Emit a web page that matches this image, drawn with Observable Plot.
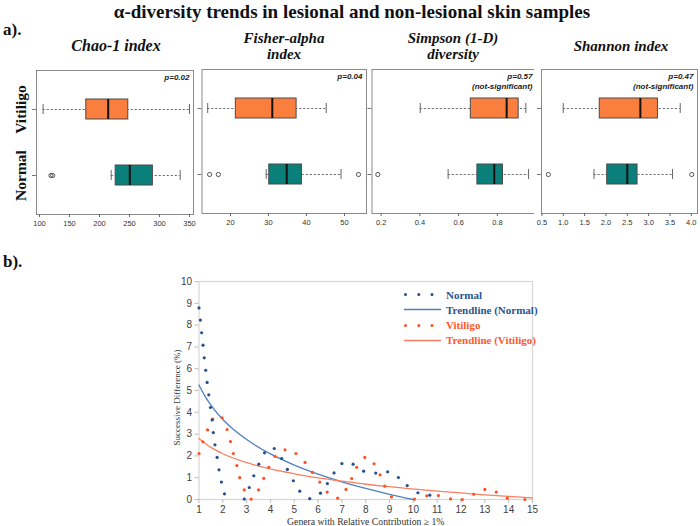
<!DOCTYPE html>
<html>
<head>
<meta charset="utf-8">
<script src="https://cdn.jsdelivr.net/npm/d3@7"></script>
<script src="https://cdn.jsdelivr.net/npm/@observablehq/plot@0.6"></script>
<style>
  body { margin: 0; background: #fff; }
  #root { position: relative; width: 700px; height: 526px; overflow: hidden; background: #fff; font-family: "Liberation Serif", "Times New Roman", serif; }
  .abs { position: absolute; white-space: nowrap; }
  .ttl { font-weight: bold; font-style: italic; font-size: 15px; text-align: center; line-height: 16px; color: #111; transform: translateX(-50%); }
  .svgwrap { position: absolute; }
  .leg { position: absolute; font-weight: bold; font-size: 11px; display: flex; align-items: center; height: 15px; }
</style>
</head>
<body>
<div id="root">
  <div class="abs" style="left:352px; top:1px; transform:translateX(-50%); font-weight:bold; font-size:19px; color:#111;">α-diversity trends in lesional and non-lesional skin samples</div>
  <div class="abs" style="left:3px; top:20px; font-weight:bold; font-size:17px; color:#111;">a).</div>
  <div class="abs" style="left:3px; top:252px; font-weight:bold; font-size:17px; color:#111;">b).</div>
  <div class="abs ttl" style="left:116px; top:38px; font-size:16px;">Chao-1 index</div>
  <div class="abs ttl" style="left:284px; top:30px;">Fisher-alpha<br>index</div>
  <div class="abs ttl" style="left:453px; top:30px;">Simpson (1-D)<br>diversity</div>
  <div class="abs ttl" style="left:621px; top:38px;">Shannon index</div>
</div>
<script>
// ---------- Data: panel a) box plots (min whisker, Q1, median, Q3, max whisker) ----------
const rowGroups = ["Vitiligo", "Normal"];

const chaoVitiligo = [106, 178, 214.5, 248, 350];
const chaoNormal = [219.5, 227, 250.5, 289, 334.5];
const chaoOutliers = [119, 122];
const chaoTicks = [100, 150, 200, 250, 300, 350];

const fisherVitiligo = [14, 21.4, 31, 37.4, 45.2];
const fisherNormal = [29.4, 30.2, 34.8, 38.8, 49.1];
const fisherOutliers = [14.5, 16.8, 53.7];
const fisherTicks = [20, 30, 40, 50];

const simpsonVitiligo = [0.402, 0.663, 0.848, 0.910, 0.947];
const simpsonNormal = [0.546, 0.697, 0.784, 0.829, 0.961];
const simpsonOutliers = [0.183];
const simpsonTicks = [0.2, 0.4, 0.6, 0.8];

const shannonVitiligo = [1.0, 1.855, 2.806, 3.218, 3.74];
const shannonNormal = [1.72, 2.03, 2.50, 2.74, 3.56];
const shannonOutliers = [0.65, 4.01];
const shannonTicks = [0.5, 1.0, 1.5, 2.0, 2.5, 3.0, 3.5, 4.0];

const pLabels = ["p=0.02", "p=0.04", "p=0.57\n(not-significant)", "p=0.47\n(not-significant)"];

// ---------- Data: panel b) successive differences ----------
const normalX = [1.0,1.06,1.11,1.17,1.22,1.28,1.34,1.41,1.48,1.55,1.60,1.67,1.76,1.84,1.94,2.07,2.90,3.11,3.30,3.51,3.75,4.16,4.47,4.71,4.96,5.23,5.65,6.10,6.39,6.67,7.00,7.47,7.91,8.42,8.92,9.37,9.74,10.19,10.69];
const normalY = [8.79,8.23,7.65,7.08,6.50,5.93,5.37,4.80,4.22,3.65,3.07,2.51,1.93,1.36,0.80,0.26,0.02,0.55,1.09,1.62,2.14,2.34,1.88,1.38,0.86,0.38,0.04,0.29,0.73,1.22,1.65,1.62,1.30,1.21,1.27,1.01,0.64,0.31,0.20];

const vitiligoX = [1.0,1.16,1.36,1.58,1.97,2.18,2.32,2.44,2.59,2.71,2.90,3.19,3.50,3.72,3.93,4.19,4.61,5.07,5.45,5.76,6.07,6.38,6.82,7.17,7.41,7.62,7.96,8.35,8.60,8.80,9.08,10.05,10.56,11.05,11.56,12.05,12.53,13.0,13.48,13.94,14.68];
const vitiligoY = [2.11,2.65,3.19,3.69,3.75,3.21,2.66,2.11,1.56,1.00,0.44,0.02,0.44,0.97,1.48,1.98,2.28,2.11,1.70,1.24,0.80,0.34,0.06,0.46,0.96,1.48,1.93,1.64,1.13,0.61,0.12,0.02,0.17,0.18,0.03,0.0,0.24,0.46,0.34,0.06,0.0];

const trendNormalX = [1, 1.25, 1.5, 2, 2.5, 3, 4, 5, 6, 7, 8, 9, 10];
const trendNormalY = [5.25, 4.74, 4.33, 3.67, 3.16, 2.75, 2.09, 1.58, 1.16, 0.81, 0.51, 0.24, 0.0];
const trendVitiligoX = [1, 1.5, 2, 3, 4, 5, 6, 7, 8, 9, 10, 11, 12, 13, 14, 15];
const trendVitiligoY = [2.80, 2.39, 2.10, 1.69, 1.40, 1.18, 0.99, 0.84, 0.70, 0.59, 0.48, 0.38, 0.30, 0.21, 0.14, 0.07];

const xTicksB = [1,2,3,4,5,6,7,8,9,10,11,12,13,14,15];
const yTicksB = [0,1,2,3,4,5,6,7,8,9,10];
const legendLabels = ["Normal", "Trendline (Normal)", "Vitiligo", "Trendline (Vitiligo)"];

// ---------- Styles ----------
const ORANGE = "#FA7F3E", TEAL = "#0B7F79";
const C_NORM_DOT = "#24508F", C_NORM_LINE = "#4F81BD";
const C_VIT_DOT = "#FF5025", C_VIT_LINE = "#FA7F62";
const root = document.getElementById("root");

function place(svg, left, top, bg) {
  const d = document.createElement("div");
  d.className = "svgwrap";
  d.style.left = left + "px";
  d.style.top = top + "px";
  if (bg) d.style.background = bg;
  d.appendChild(svg);
  root.appendChild(d);
}

function boxPanel({vit, nor, outliers, domain, ticks, fmt, pText, width, marginLeft, marginRight, showLabels, bg}) {
  const stats = [
    {g: "Vitiligo", v: vit, fill: ORANGE},
    {g: "Normal", v: nor, fill: TEAL}
  ];
  const marks = [
    Plot.ruleY(stats, {y: "g", x1: d => d.v[0], x2: d => d.v[4], stroke: "#6f6f6f", strokeWidth: 1, strokeDasharray: "2.2,1.8"}),
    Plot.tickX(stats, {x: d => d.v[0], y: "g", insetTop: 5, insetBottom: 5, stroke: "#666"}),
    Plot.tickX(stats, {x: d => d.v[4], y: "g", insetTop: 5, insetBottom: 5, stroke: "#666"}),
    Plot.barX(stats, {y: "g", x1: d => d.v[1], x2: d => d.v[3], fill: "fill", stroke: "#4a4a4a", strokeWidth: 1}),
    Plot.tickX(stats, {x: d => d.v[2], y: "g", stroke: "#111", strokeWidth: 2}),
    Plot.dot(outliers, {x: d => d, y: () => "Normal", r: 2.1, stroke: "#555", strokeWidth: 1}),
    Plot.frame({stroke: "#8a8a8a", strokeWidth: 1}),
    Plot.axisX({ticks, tickFormat: fmt, tickSize: 3, tickPadding: 3, fontSize: 7.5, fontFamily: "Liberation Sans, Arial, sans-serif", color: "#333", stroke: "#666", label: null}),
    Plot.axisY({tickSize: 4, tickFormat: () => "", stroke: "#777", label: null}),
    Plot.text([pText], {frameAnchor: "top-right", dx: -4, dy: 3, lineAnchor: "top", textAnchor: "end", fontSize: 8, fontWeight: "bold", fontStyle: "italic", fontFamily: "Liberation Sans, Arial, sans-serif", fill: "#222", lineHeight: 1.2})
  ];
  if (showLabels) {
    marks.push(Plot.text(rowGroups, {y: d => d, text: d => d, frameAnchor: "left", dx: -15, rotate: -90, textAnchor: "middle", lineAnchor: "middle", fontSize: 15.5, fontWeight: "bold", fontFamily: "Liberation Serif, Times New Roman, serif", fill: "#111"}));
  }
  return Plot.plot({
    width, height: 172,
    marginLeft, marginRight, marginTop: 2, marginBottom: 26,
    x: {domain, label: null},
    y: {type: "band", domain: rowGroups, paddingInner: 0.697, paddingOuter: 0.439, label: null},
    color: {type: "identity"},
    style: {background: bg || "transparent", overflow: "visible"},
    marks
  });
}

const f0 = d => String(d);
const f1 = d => d.toFixed(1);

place(boxPanel({vit: chaoVitiligo, nor: chaoNormal, outliers: chaoOutliers, domain: [95, 356.7], ticks: chaoTicks, fmt: f0, pText: pLabels[0], width: 194, marginLeft: 36, marginRight: 1, showLabels: true}), 0, 68);
place(boxPanel({vit: fisherVitiligo, nor: fisherNormal, outliers: fisherOutliers, domain: [12.5, 55.8], ticks: fisherTicks, fmt: f0, pText: pLabels[1], width: 172, marginLeft: 6.5, marginRight: 1}), 195, 67);
place(boxPanel({vit: simpsonVitiligo, nor: simpsonNormal, outliers: simpsonOutliers, domain: [0.153, 1.002], ticks: simpsonTicks, fmt: f1, pText: pLabels[2], width: 171, marginLeft: 5.5, marginRight: 1}), 366, 67);
place(boxPanel({vit: shannonVitiligo, nor: shannonNormal, outliers: shannonOutliers, domain: [0.49, 4.145], ticks: shannonTicks, fmt: f1, pText: pLabels[3], width: 166, marginLeft: 7, marginRight: 3, bg: "#fff"}), 534, 67);

// ---------- Panel b ----------
const normalPts = normalX.map((x, i) => ({x, y: normalY[i]}));
const vitPts = vitiligoX.map((x, i) => ({x, y: vitiligoY[i]}));
const trendN = trendNormalX.map((x, i) => ({x, y: trendNormalY[i]}));
const trendV = trendVitiligoX.map((x, i) => ({x, y: trendVitiligoY[i]}));

const chartB = Plot.plot({
  width: 700, height: 256,
  marginLeft: 198.5, marginRight: 168, marginTop: 11, marginBottom: 27,
  x: {domain: [1, 15], label: null},
  y: {domain: [0, 10], label: null},
  style: {background: "transparent", overflow: "visible"},
  marks: [
    Plot.frame({stroke: "#d6d6d6", strokeWidth: 1.2}),
    Plot.axisX({ticks: xTicksB, tickSize: 4, tickPadding: 2, fontSize: 10, fontFamily: "Liberation Sans, Arial, sans-serif", color: "#404040", stroke: "#bdbdbd", label: null}),
    Plot.axisY({ticks: yTicksB, tickSize: 4, tickPadding: 3, fontSize: 10, fontFamily: "Liberation Sans, Arial, sans-serif", color: "#404040", stroke: "#bdbdbd", label: null}),
    Plot.text(["Successive Difference (%)"], {frameAnchor: "left", dx: -22, dy: 7, rotate: -90, textAnchor: "middle", lineAnchor: "middle", fontSize: 9, fontFamily: "Liberation Serif, Times New Roman, serif", fill: "#333"}),
    Plot.text(["Genera with Relative Contribution ≥ 1%"], {frameAnchor: "bottom", dy: 22, textAnchor: "middle", lineAnchor: "middle", fontSize: 9.7, fontFamily: "Liberation Serif, Times New Roman, serif", fill: "#333"}),
    Plot.line(trendN, {x: "x", y: "y", stroke: C_NORM_LINE, strokeWidth: 1.3, curve: "monotone-x"}),
    Plot.line(trendV, {x: "x", y: "y", stroke: C_VIT_LINE, strokeWidth: 1.3, curve: "monotone-x"}),
    Plot.dot(vitPts, {x: "x", y: "y", r: 1.6, fill: C_VIT_DOT, stroke: null}),
    Plot.dot(normalPts, {x: "x", y: "y", r: 1.6, fill: C_NORM_DOT, stroke: null})
  ]
});
place(chartB, 0, 270);

// ---------- Legend for panel b ----------
const legendStyles = [
  {type: "dots", color: C_NORM_DOT, text: "#2A5690"},
  {type: "line", color: C_NORM_LINE, text: "#2A5690"},
  {type: "dots", color: C_VIT_DOT, text: "#FF5A2E"},
  {type: "line", color: C_VIT_LINE, text: "#FF5A2E"}
];
legendLabels.forEach((lab, i) => {
  const s = legendStyles[i];
  const row = document.createElement("div");
  row.className = "leg";
  row.style.left = "403px";
  row.style.top = (287 + i * 15.3) + "px";
  const sw = s.type === "dots"
    ? `<svg width="42" height="15"><circle cx="2.5" cy="7.5" r="1.5" fill="${s.color}"/><circle cx="15.8" cy="7.5" r="1.5" fill="${s.color}"/><circle cx="29" cy="7.5" r="1.5" fill="${s.color}"/></svg>`
    : `<svg width="42" height="15"><line x1="1" x2="38" y1="7.5" y2="7.5" stroke="${s.color}" stroke-width="1.3"/></svg>`;
  row.innerHTML = sw + `<span style="color:${s.text};margin-left:1px">${lab}</span>`;
  root.appendChild(row);
});
</script>
</body>
</html>
